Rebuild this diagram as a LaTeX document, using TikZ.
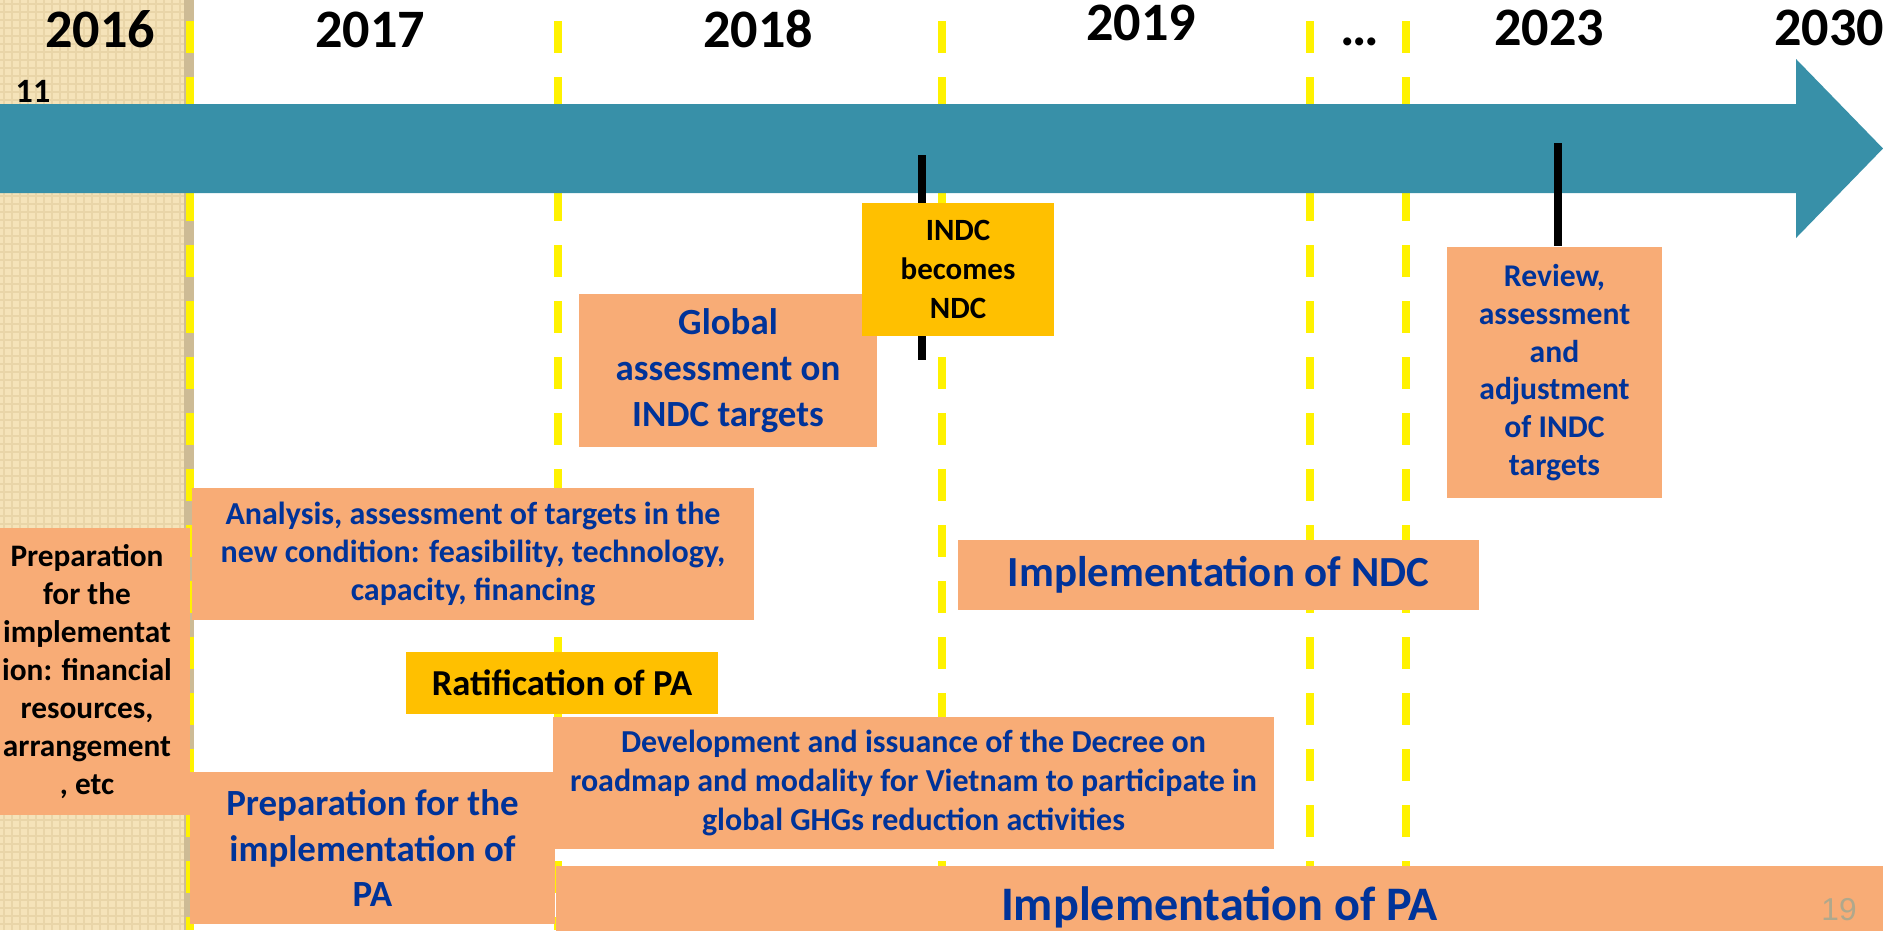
\documentclass[tikz,border=0pt]{standalone}
\usepackage{fontspec}
\setmainfont{Carlito}
\newfontfamily\numfont{Liberation Sans}
\definecolor{arrowteal}{HTML}{3890A8}
\definecolor{boxorange}{HTML}{F8AC76}
\definecolor{boxgold}{HTML}{FFC000}
\definecolor{txtblue}{HTML}{003399}
\definecolor{paper}{HTML}{F5E3B9}
\definecolor{paperdark}{HTML}{E9D5A8}
\definecolor{paperedge}{HTML}{CDBB95}
\definecolor{pagegray}{HTML}{B0A88C}
\begin{document}
\begin{tikzpicture}[x=0.01cm,y=-0.01cm,
    yr/.style={font=\fontsize{15.4pt}{18pt}\selectfont\bfseries,inner sep=0pt,anchor=base},
    obox/.style={rectangle,fill=boxorange,text=txtblue,align=center,inner sep=0pt},
    gbox/.style={rectangle,fill=boxgold,align=center,inner sep=0pt},
    ybar/.style={yellow,line width=2.28pt,dash pattern=on 9.1pt off 6.83pt},
    blkline/.style={black,line width=2.28pt}]
    \fill[white] (0,0) rectangle (1883,930);
    \useasboundingbox (0,0) rectangle (1883,930);
    % left column
    \fill[paper] (0,0) rectangle (194,930);
    \foreach \i in {4,12,...,180} \draw[paperdark,line width=0.5pt] (\i,0) -- (\i,930);
    \foreach \j in {4,12,...,926} \draw[paperdark,line width=0.5pt] (0,\j) -- (184,\j);
    \fill[paperedge] (184,0) rectangle (194,930);
    \foreach \x in {190,558,942,1310,1406} \draw[ybar] (\x,21) -- (\x,930);
    % time arrow
    \fill[arrowteal] (0,104) -- (1796,104) -- (1796,59) -- (1883,148.5) -- (1796,238) -- (1796,193) -- (0,193) -- cycle;
    \node[yr] (y16) at (100,47) {2016};
    \node[yr] (y17) at (370,47) {2017};
    \node[yr] (y18) at (758,47) {2018};
    \node[yr] (y19) at (1141,40) {2019};
    \node[yr] (ydots) at (1360,45) {\ldots};
    \node[yr] (y23) at (1549,45) {2023};
    \node[yr] (y30) at (1829,45) {2030};
    \node[font=\fontsize{9.7pt}{11pt}\selectfont\bfseries,inner sep=0pt,anchor=base] (nov) at (33,102) {11};
    % boxes
    \node[obox,text=black,minimum width=2.06cm,minimum height=2.87cm,font=\fontsize{8.9pt}{10.8pt}\selectfont\bfseries] (prepl) at (87,671.5) {Preparation\\for the\\implementat\\ion: financial\\resources,\\arrangement\\, etc};
    \node[obox,minimum width=5.62cm,minimum height=1.32cm,font=\fontsize{9.1pt}{10.9pt}\selectfont\bfseries] (analysis) at (473,554) {Analysis, assessment of targets in the\\new condition: feasibility, technology,\\capacity, financing};
    \node[obox,minimum width=2.98cm,minimum height=1.53cm,font=\fontsize{10.5pt}{13.1pt}\selectfont\bfseries] (glob) at (728,370.5) {Global\\assessment on\\INDC targets};
    \coordinate (t1a) at (922,155);
    \coordinate (t1b) at (922,360);
    \draw[blkline] (t1a) -- (t1b);
    \node[gbox,minimum width=1.92cm,minimum height=1.33cm,font=\fontsize{8.8pt}{11.1pt}\selectfont\bfseries] (indc) at (958,269.5) {INDC\\becomes\\NDC};
    \node[obox,minimum width=2.15cm,minimum height=2.51cm,font=\fontsize{9pt}{10.7pt}\selectfont\bfseries] (review) at (1554.5,372.5) {Review,\\assessment\\and\\adjustment\\of INDC\\targets};
    \coordinate (t2a) at (1558,143);
    \draw[blkline] (t2a) -- (t2a |- review.north);
    \node[obox,minimum width=5.21cm,minimum height=0.70cm,font=\fontsize{12.2pt}{14pt}\selectfont\bfseries] (ndc) at (1218.5,575) {Implementation of NDC};
    \node[gbox,minimum width=3.12cm,minimum height=0.61cm,font=\fontsize{10.4pt}{12pt}\selectfont\bfseries] (ratif) at (562,683) {Ratification of PA};
    \node[obox,minimum width=7.21cm,minimum height=1.31cm,font=\fontsize{9.1pt}{11pt}\selectfont\bfseries] (decree) at (913.5,783) {Development and issuance of the Decree on\\roadmap and modality for Vietnam to participate in\\global GHGs reduction activities};
    \node[obox,minimum width=3.65cm,minimum height=1.52cm,font=\fontsize{10.5pt}{12.8pt}\selectfont\bfseries] (preppa) at (372.5,848) {Preparation for the\\implementation of\\PA};
    \node[obox,minimum width=13.27cm,minimum height=0.82cm,font=\fontsize{13.7pt}{16pt}\selectfont\bfseries] (implpa) at (1219.5,907) {Implementation of PA};
    \node[text=pagegray,font=\numfont\fontsize{9pt}{10pt}\selectfont,inner sep=0pt] (pgno) at (1839,910) {19};
\end{tikzpicture}
\end{document}
